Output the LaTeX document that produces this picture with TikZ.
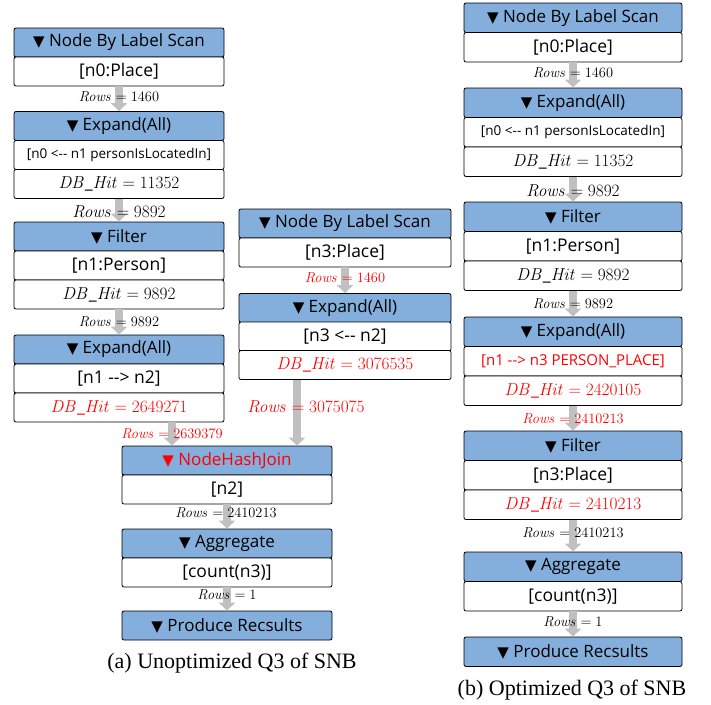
\documentclass[tikz,border=0pt]{standalone}
\usepackage[no-math]{fontspec}
\setmainfont{Open Sans}
\newfontfamily\capfont{Liberation Serif}
\newfontfamily\trifont{DejaVu Sans}
\usetikzlibrary{arrows.meta}
\definecolor{hdrblue}{RGB}{132,174,220}
\definecolor{arrgray}{RGB}{192,192,192}
\definecolor{redtxt}{RGB}{255,0,0}
\newcommand\tri{{\trifont\fontsize{15}{17}\selectfont ▼}\ }
\newcommand\rws[1]{$\mathit{Rows}=#1$}
\newcommand\dbh[1]{$\mathit{DB\_Hit}=#1$}
\tikzset{
  cell/.style={draw=black, line width=0.8pt, rounded corners=2pt, fill=white,
    inner sep=0pt, minimum height=29pt, font=\fontsize{17.5}{20}\selectfont},
  hdr/.style={cell, fill=hdrblue, font=\fontsize{17}{20}\selectfont},
  lw/.style={minimum width=210pt},
  mw/.style={minimum width=212pt},
  rw/.style={minimum width=218pt, minimum height=29.5pt},
  smalltxt/.style={font=\fontsize{13.5}{16}\selectfont},
  dbtxt/.style={font=\fontsize{17.5}{19}\selectfont},
  flow/.style={draw=arrgray, line width=8pt, -{Triangle[width=16pt,length=8pt]}},
  rowlbl/.style={inner sep=0pt, font=\fontsize{14}{16}\selectfont},
  bigrow/.style={inner sep=0pt, font=\fontsize{17}{19}\selectfont},
  red/.style={text=redtxt},
  capt/.style={inner sep=0pt, font=\capfont\fontsize{22}{25}\selectfont},
}
\begin{document}
\begin{tikzpicture}[x=1pt,y=-1pt]
\useasboundingbox (0,0) rectangle (711,704);
% ---------- left column ----------
\node[hdr,lw] (L1h) at (119,42.5) {\tri Node By Label Scan};
\node[cell,lw] (L1a) at (119,71.5) {[n0:Place]};
\node[hdr,lw] (L2h) at (119,126) {\tri Expand(All)};
\node[cell,lw,smalltxt] (L2a) at (119,155) {[n0 <-{}- n1 personIsLocatedIn]};
\node[cell,lw,dbtxt] (L2b) at (119,184) {\dbh{11352}};
\node[hdr,lw] (L3h) at (119,236.5) {\tri Filter};
\node[cell,lw] (L3a) at (119,265.5) {[n1:Person]};
\node[cell,lw,dbtxt] (L3b) at (119,294.5) {\dbh{9892}};
\node[hdr,lw] (L4h) at (119,349.5) {\tri Expand(All)};
\node[cell,lw] (L4a) at (119,378.5) {[n1 -{}-> n2]};
\node[cell,lw,dbtxt,red] (L4b) at (119,407.5) {\dbh{2649271}};
% ---------- middle column ----------
\node[hdr,mw] (M1h) at (345,223.5) {\tri Node By Label Scan};
\node[cell,mw] (M1a) at (345,252.5) {[n3:Place]};
\node[hdr,mw] (M2h) at (345,308) {\tri Expand(All)};
\node[cell,mw] (M2a) at (345,336.5) {[n3 <-{}- n2]};
\node[cell,mw,dbtxt,red] (M2b) at (345,365) {\dbh{3076535}};
% ---------- bottom column ----------
\node[hdr,lw,red] (B1h) at (227,460.5) {\tri NodeHashJoin};
\node[cell,lw] (B1a) at (227,489.5) {[n2]};
\node[hdr,lw] (B2h) at (227,543.5) {\tri Aggregate};
\node[cell,lw] (B2a) at (227,572.5) {[count(n3)]};
\node[hdr,lw] (B3h) at (227,625.5) {\tri Produce Recsults};
% ---------- right column ----------
\node[hdr,rw] (R1h) at (573,17.75) {\tri Node By Label Scan};
\node[cell,rw] (R1a) at (573,47.25) {[n0:Place]};
\node[hdr,rw] (R2h) at (573,102.75) {\tri Expand(All)};
\node[cell,rw,smalltxt] (R2a) at (573,132.25) {[n0 <-{}- n1 personIsLocatedIn]};
\node[cell,rw,dbtxt] (R2b) at (573,161.75) {\dbh{11352}};
\node[hdr,rw] (R3h) at (573,216.75) {\tri Filter};
\node[cell,rw] (R3a) at (573,246.25) {[n1:Person]};
\node[cell,rw,dbtxt] (R3b) at (573,275.75) {\dbh{9892}};
\node[hdr,rw] (R4h) at (573,331.75) {\tri Expand(All)};
\node[cell,rw,red,font=\fontsize{15}{17}\selectfont] (R4a) at (573,361.25) {[n1 -{}-> n3 PERSON\_PLACE]};
\node[cell,rw,dbtxt,red] (R4b) at (573,390.75) {\dbh{2420105}};
\node[hdr,rw] (R5h) at (573,445.75) {\tri Filter};
\node[cell,rw] (R5a) at (573,475.25) {[n3:Place]};
\node[cell,rw,dbtxt,red] (R5b) at (573,504.75) {\dbh{2410213}};
\node[hdr,rw] (R6h) at (573,566.75) {\tri Aggregate};
\node[cell,rw] (R6a) at (573,596.25) {[count(n3)]};
\node[hdr,rw] (R7h) at (573,651.75) {\tri Produce Recsults};
% ---------- arrow x positions ----------
\coordinate (axL) at (119,0);
\coordinate (axJ) at (172,0);
\coordinate (axM) at (345,0);
\coordinate (axN) at (297,0);
\coordinate (axB) at (227,0);
\coordinate (axR) at (573,0);
% ---------- arrows ----------
\draw[flow] (L1a.south -| axL) -- (L2h.north -| axL);
\draw[flow] (L2b.south -| axL) -- (L3h.north -| axL);
\draw[flow] (L3b.south -| axL) -- (L4h.north -| axL);
\draw[flow] (L4b.south -| axJ) -- (B1h.north -| axJ);
\draw[flow] (M1a.south -| axM) -- (M2h.north -| axM);
\draw[flow] (M2b.south -| axN) -- (B1h.north -| axN);
\draw[flow] (B1a.south -| axB) -- (B2h.north -| axB);
\draw[flow] (B2a.south -| axB) -- (B3h.north -| axB);
\draw[flow] (R1a.south -| axR) -- (R2h.north -| axR);
\draw[flow] (R2b.south -| axR) -- (R3h.north -| axR);
\draw[flow] (R3b.south -| axR) -- (R4h.north -| axR);
\draw[flow] (R4b.south -| axR) -- (R5h.north -| axR);
\draw[flow] (R5b.south -| axR) -- (R6h.north -| axR);
\draw[flow] (R6a.south -| axR) -- (R7h.north -| axR);
% ---------- row labels ----------
\node[rowlbl] (lr1) at (119,97) {\rws{1460}};
\node[bigrow] (lr2) at (119,212) {\rws{9892}};
\node[rowlbl] (lr3) at (119,322) {\rws{9892}};
\node[rowlbl,red] (lr4) at (172,434) {\rws{2639379}};
\node[rowlbl,red] (mr1) at (345,277.5) {\rws{1460}};
\node[bigrow,red] (mr2) at (306,407) {\rws{3075075}};
\node[rowlbl] (br1) at (226,513) {\rws{2410213}};
\node[rowlbl] (br2) at (227,595) {\rws{1}};
\node[rowlbl] (rr1) at (573,72.5) {\rws{1460}};
\node[bigrow] (rr2) at (573,191) {\rws{9892}};
\node[rowlbl] (rr3) at (573,304) {\rws{9892}};
\node[rowlbl,red] (rr4) at (573,419) {\rws{2410213}};
\node[rowlbl] (rr5) at (573,533) {\rws{2410213}};
\node[rowlbl] (rr6) at (573,621.5) {\rws{1}};
% ---------- captions ----------
\node[capt] (capA) at (232,663) {(a) Unoptimized Q3 of SNB};
\node[capt] (capB) at (572,690) {(b) Optimized Q3 of SNB};
\end{tikzpicture}
\end{document}
